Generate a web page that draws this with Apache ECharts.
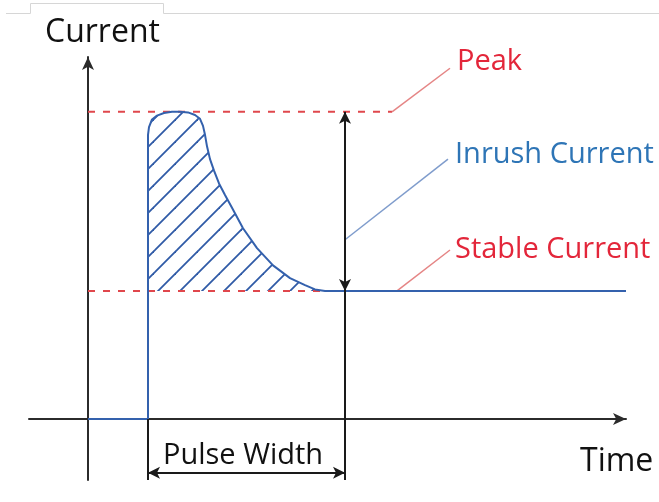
<!DOCTYPE html>
<html>
<head>
<meta charset="utf-8">
<script src="https://cdn.jsdelivr.net/npm/echarts@6/dist/echarts.min.js"></script>
<style>
  html, body { margin: 0; padding: 0; background: #ffffff; }
  #chart { width: 659px; height: 502px; }
</style>
</head>
<body>
<div id="chart"></div>
<script>
// Inrush current waveform: time (arbitrary units) vs current (multiples of stable current)
const curveTime = [0, 3, 3, 3.05, 3.2, 3.45, 3.8, 4.2, 4.6, 5.0, 5.35, 5.6, 5.75, 5.85, 5.95, 6.1, 6.3, 6.55, 6.85, 7.2, 7.75, 8.45, 9.25, 10.1, 10.85, 11.35, 11.85, 26.9];
const curveCurrent = [0, 0, 2.22, 2.28, 2.34, 2.37, 2.39, 2.4, 2.4, 2.395, 2.375, 2.345, 2.29, 2.22, 2.13, 2.03, 1.94, 1.84, 1.75, 1.65, 1.49, 1.335, 1.2, 1.1, 1.045, 1.012, 1.0, 1.0];

const peakCurrent = 2.4;
const stableCurrent = 1.0;
const pulseStart = 3;
const pulseEnd = 12.85;
const timeMin = -2.95, timeMax = 26.9;
const currentMin = -0.477, currentMax = 2.828;

// leader lines from the reference levels to their labels
const peakLeader = [[0, 2.4], [15.2, 2.4], [18.1, 2.74]];
const stableLeader = [[0, 1.0], [15.45, 1.0], [18.1, 1.32]];
const inrushLeader = [[12.85, 1.4], [18.0, 2.03]];
const widthArrowLevel = -0.42;

const blue = '#3461ad';
const red = '#e0474c';

// diagonal hatch tile for the inrush area
function hatchTile() {
  const c = document.createElement('canvas');
  c.width = 22; c.height = 22;
  const ctx = c.getContext('2d');
  ctx.strokeStyle = '#2f5aa6';
  ctx.lineWidth = 1.8;
  [-13, 9, 31, 53].forEach(k => {
    ctx.beginPath();
    ctx.moveTo(-5, k + 5);
    ctx.lineTo(k + 5, -5);
    ctx.stroke();
  });
  return c;
}

const curve = curveTime.map((t, i) => [t, curveCurrent[i]]);
const pulsePart = curve.slice(2, curve.length - 1);

const chart = echarts.init(document.getElementById('chart'), null, { renderer: 'canvas' });

const txt = (text, x, y, size, color) => ({
  type: 'text', left: x, top: y - size * 0.62 + 7,
  style: { text, fontFamily: 'Open Sans', fontSize: size, fill: color }
});

chart.setOption({
  animation: false,
  backgroundColor: '#ffffff',
  grid: { left: 29, right: 33, top: 57, bottom: 22 },
  xAxis: {
    type: 'value', min: timeMin, max: timeMax,
    axisLine: { onZero: true, symbol: ['none', 'arrow'], symbolSize: [9, 13], lineStyle: { color: '#2b2b2b', width: 2 } },
    axisTick: { show: false }, axisLabel: { show: false }, splitLine: { show: false }
  },
  yAxis: {
    type: 'value', min: currentMin, max: currentMax,
    axisLine: { onZero: true, symbol: ['none', 'arrow'], symbolSize: [9, 13], lineStyle: { color: '#2b2b2b', width: 2 } },
    axisTick: { show: false }, axisLabel: { show: false }, splitLine: { show: false }
  },
  graphic: [
    { type: 'polyline', shape: { points: [[6, 13.5], [30.5, 13.5], [30.5, 3.5], [163.5, 3.5], [163.5, 13.5], [659, 13.5]] },
      style: { stroke: '#d6d6d6', lineWidth: 1, fill: null } },
    txt('Current', 45, 29.5, 32, '#111111'),
    txt('Peak', 457, 58.5, 29, '#e3263a'),
    txt('Inrush Current', 455, 151, 29, '#2e75b6'),
    txt('Stable Current', 455, 246.5, 29, '#e3263a'),
    txt('Pulse Width', 163, 452.5, 29, '#111111'),
    txt('Time', 580, 458.5, 32, '#111111')
  ],
  series: [
    {
      type: 'line', data: peakLeader.slice(0, 2), symbol: 'none', silent: true,
      lineStyle: { color: red, width: 2, type: [7, 8] }
    },
    {
      type: 'line', data: peakLeader.slice(1), symbol: 'none', silent: true,
      lineStyle: { color: '#e58585', width: 1.5 }
    },
    {
      type: 'line', data: stableLeader.slice(0, 2), symbol: 'none', silent: true,
      lineStyle: { color: red, width: 2, type: [7, 8] }
    },
    {
      type: 'line', data: stableLeader.slice(1), symbol: 'none', silent: true,
      lineStyle: { color: '#e58585', width: 1.5 }
    },
    {
      type: 'line', data: inrushLeader, symbol: 'none', silent: true,
      lineStyle: { color: '#7f9ccc', width: 1.5 }
    },
    {
      // hatched area between the pulse and the stable level
      type: 'line', data: pulsePart, symbol: 'none', silent: true,
      lineStyle: { width: 0 },
      areaStyle: { origin: stableCurrent, opacity: 1, color: { image: hatchTile(), repeat: 'repeat' } }
    },
    {
      type: 'line', data: curve, symbol: 'none', silent: true,
      lineStyle: { color: blue, width: 2 }
    },
    {
      // dimension lines: pulse boundaries, peak-to-stable span, pulse width
      type: 'line', data: [], symbol: 'none', silent: true,
      markLine: {
        silent: true, animation: false,
        label: { show: false },
        lineStyle: { color: '#1a1a1a', width: 2, type: 'solid' },
        symbolSize: [9, 12],
        data: [
          [{ coord: [pulseEnd, stableCurrent], symbol: 'arrow' }, { coord: [pulseEnd, peakCurrent], symbol: 'arrow' }],
          [{ coord: [pulseEnd, currentMin], symbol: 'none' }, { coord: [pulseEnd, stableCurrent], symbol: 'none' }],
          [{ coord: [pulseStart, currentMin], symbol: 'none' }, { coord: [pulseStart, 0], symbol: 'none' }],
          [{ coord: [pulseStart, widthArrowLevel], symbol: 'arrow' }, { coord: [pulseEnd, widthArrowLevel], symbol: 'arrow' }]
        ]
      }
    }
  ]
});
</script>
</body>
</html>
